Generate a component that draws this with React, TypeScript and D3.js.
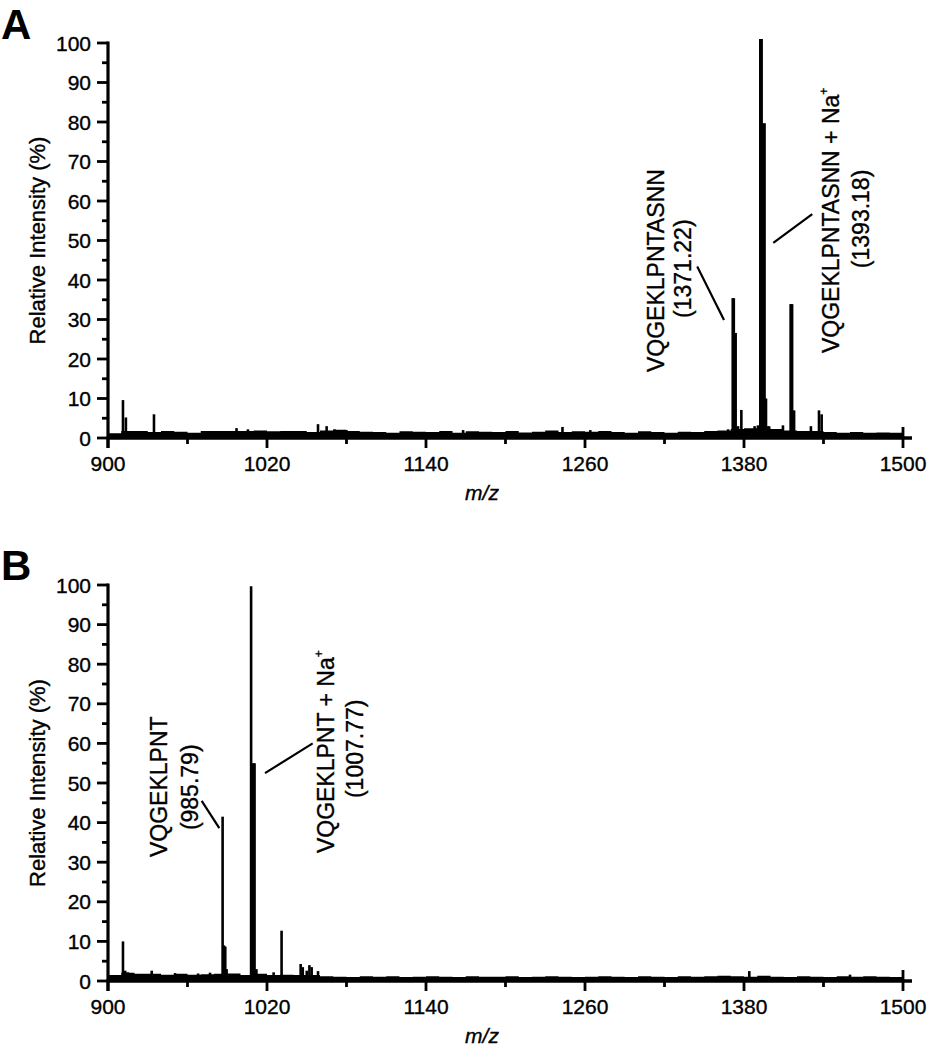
import React from "react";
import * as d3 from "d3";

// ---------- data ----------
const X_MAJOR = [900, 1020, 1140, 1260, 1380, 1500];
const X_MINOR = [960, 1080, 1200, 1320, 1440];
const Y_MAJOR = [0, 10, 20, 30, 40, 50, 60, 70, 80, 90, 100];
const Y_MINOR = [5, 15, 25, 35, 45, 55, 65, 75, 85, 95];

// baseline noise grid (m/z, every 10)
const BASE_MZ = [
  900, 910, 920, 930, 940, 950, 960, 970, 980, 990,
  1000, 1010, 1020, 1030, 1040, 1050, 1060, 1070, 1080, 1090,
  1100, 1110, 1120, 1130, 1140, 1150, 1160, 1170, 1180, 1190,
  1200, 1210, 1220, 1230, 1240, 1250, 1260, 1270, 1280, 1290,
  1300, 1310, 1320, 1330, 1340, 1350, 1360, 1370, 1380, 1390,
  1400, 1410, 1420, 1430, 1440, 1450, 1460, 1470, 1480, 1490, 1500,
];
const A_BASE = [
  1.2, 1.8, 1.8, 1.5, 1.8, 1.6, 1.3, 1.8, 1.8, 1.8,
  1.8, 1.9, 1.7, 1.8, 1.8, 1.5, 1.9, 2.1, 1.8, 1.6,
  1.5, 1.3, 1.7, 1.6, 1.5, 1.8, 1.3, 1.7, 1.6, 1.5,
  1.8, 1.4, 1.6, 1.9, 1.5, 1.7, 1.6, 1.8, 1.5, 1.3,
  1.7, 1.5, 1.3, 1.6, 1.5, 1.8, 1.9, 2.3, 2.5, 2.9,
  2.3, 1.9, 1.8, 1.8, 1.5, 1.3, 1.5, 1.3, 1.4, 1.3, 1.1,
];
const B_BASE = [
  1.5, 2.1, 1.8, 1.8, 1.6, 1.8, 1.6, 1.7, 1.8, 1.9,
  1.5, 1.8, 1.5, 1.6, 1.5, 1.5, 1.2, 1.1, 1.0, 1.2,
  1.1, 1.2, 1.0, 1.1, 1.2, 1.1, 1.0, 1.2, 1.1, 1.1,
  1.2, 1.0, 1.1, 1.2, 1.1, 1.0, 1.1, 1.2, 1.1, 1.0,
  1.2, 1.1, 1.0, 1.2, 1.1, 1.2, 1.3, 1.2, 1.1, 1.3,
  1.1, 1.0, 1.2, 1.1, 1.0, 1.2, 1.1, 1.2, 1.1, 1.0, 1.1,
];

// peaks: [m/z, relative intensity]
const A_PEAKS: [number, number][] = [
  [911.3, 9.6], [913.5, 5.2], [934.7, 6.0],
  [997, 2.5], [1005.6, 2.2], [1058.5, 3.5], [1065, 3.0], [1071, 2.2], [1080, 2.0],
  [1168, 2.0], [1243, 2.8], [1264, 2.0],
  [1368, 2.2], [1371.5, 35.4], [1372.3, 35.4], [1373.7, 26.6], [1375.5, 3.0], [1378, 7.1],
  [1388, 3.0], [1390.5, 3.2], [1392.3, 101], [1393.3, 101], [1394.5, 79.7], [1395.5, 79.7],
  [1396.6, 10], [1398.5, 3.0],
  [1409.4, 3.2], [1415.2, 33.9], [1416.3, 33.9], [1417.8, 7.0],
  [1430.5, 3.0], [1436.6, 7.0], [1438.6, 6.0],
];
const B_PEAKS: [number, number][] = [
  [911.3, 10], [913, 2.6], [915, 2.2], [933, 2.6], [950.6, 2.0], [968, 1.9], [977, 2.1],
  [986.5, 41.5], [987.5, 9.0], [988.5, 8.7], [989.5, 3.0],
  [1008, 99.7], [1009.6, 55], [1010.6, 55], [1012, 3.0],
  [1025, 2.2], [1031, 12.7], [1045.4, 4.3], [1047, 3.5], [1050, 2.6], [1052, 4.0],
  [1053.7, 3.5], [1058.5, 2.5], [1384, 2.5], [1460, 1.6],
];

// annotations (data coordinates): rotated text labels and leader lines
const A_LABELS = [
  { text: "VQGEKLPNTASNN", mz: 1319.3, v: 16.7, na: false },
  { text: "(1371.22)", mz: 1340, v: 30.4, na: false },
  { text: "VQGEKLPNTASNN + Na", mz: 1452, v: 21.5, na: true },
  { text: "(1393.18)", mz: 1474.3, v: 43, na: false },
];
const A_LINES = [
  [1344.7, 43.4, 1364.9, 29.9],
  [1402.1, 49.4, 1431.5, 56.7],
];
const B_LABELS = [
  { text: "VQGEKLPNT", mz: 944.9, v: 31.3, na: false },
  { text: "(985.79)", mz: 967.9, v: 38.1, na: false },
  { text: "VQGEKLPNT + Na", mz: 1070.2, v: 32.3, na: true },
  { text: "(1007.77)", mz: 1092.5, v: 46.2, na: false },
];
const B_LINES = [
  [970.7, 45.5, 984, 38.6],
  [1018.5, 52.5, 1054.5, 60],
];

const FONT = "'Liberation Sans', Arial, Helvetica, sans-serif";
const TXT = { fontFamily: FONT, stroke: "#000", strokeWidth: 0.35 };

type PanelProps = {
  letter: string;
  top: number;
  bottom: number;
  letterY: number;
  base: number[];
  peaks: [number, number][];
  labels: { text: string; mz: number; v: number; na: boolean }[];
  lines: number[][];
};

function Panel({ letter, top, bottom, letterY, base, peaks, labels, lines }: PanelProps) {
  const x = d3.scaleLinear().domain([900, 1500]).range([108, 903]);
  const y = d3.scaleLinear().domain([0, 100]).range([bottom, top]);
  const baseArea = d3
    .area<number>()
    .x((_, i) => x(BASE_MZ[i]))
    .y0(y(0))
    .y1((d) => y(d))
    .curve(d3.curveStepAfter);

  return (
    <g>
      <text x={1} y={letterY} fontFamily={FONT} fontWeight="bold" fontSize={42}>
        {letter}
      </text>
      {/* y axis title */}
      <text
        transform={`translate(45,${(top + bottom) / 2}) rotate(-90)`}
        textAnchor="middle"
        fontSize={22}
        {...TXT}
      >
        Relative Intensity (%)
      </text>
      {/* noise baseline */}
      <path d={baseArea(base) || ""} fill="#000" />
      {/* peaks */}
      {peaks.map(([mz, v], i) => (
        <line key={i} x1={x(mz)} x2={x(mz)} y1={y(0)} y2={y(v)} stroke="#000" strokeWidth={2.6} />
      ))}
      {/* axes */}
      <line x1={x(900)} x2={x(900)} y1={y(100) - 1.5} y2={y(0) + 10} stroke="#000" strokeWidth={3.2} />
      <line x1={x(900) - 1.5} x2={x(1500) + 9} y1={y(0)} y2={y(0)} stroke="#000" strokeWidth={3.5} />
      {Y_MAJOR.map((t) => (
        <g key={"ym" + t}>
          <line x1={x(900) - 11} x2={x(900)} y1={y(t)} y2={y(t)} stroke="#000" strokeWidth={2.8} />
          <text x={91} y={y(t) + 7.5} textAnchor="end" fontSize={21} {...TXT}>
            {t}
          </text>
        </g>
      ))}
      {Y_MINOR.map((t) => (
        <line key={"yn" + t} x1={x(900) - 6} x2={x(900)} y1={y(t)} y2={y(t)} stroke="#000" strokeWidth={2.8} />
      ))}
      {X_MAJOR.map((t) => (
        <g key={"xm" + t}>
          <line
            x1={x(t)}
            x2={x(t)}
            y1={t === 1500 ? y(0) - 11 : y(0)}
            y2={y(0) + 10}
            stroke="#000"
            strokeWidth={2.8}
          />
          <text x={x(t)} y={y(0) + 33} textAnchor="middle" fontSize={21} {...TXT}>
            {t}
          </text>
        </g>
      ))}
      {X_MINOR.map((t) => (
        <line key={"xn" + t} x1={x(t)} x2={x(t)} y1={y(0)} y2={y(0) + 6} stroke="#000" strokeWidth={2.8} />
      ))}
      <text x={482} y={y(0) + 62} textAnchor="middle" fontSize={21} fontStyle="italic" {...TXT}>
        m/z
      </text>
      {/* annotations */}
      {labels.map((l, i) => (
        <text
          key={"l" + i}
          transform={`translate(${x(l.mz)},${y(l.v)}) rotate(-90)`}
          fontSize={23}
          {...TXT}
        >
          {l.text}
          {l.na ? (
            <tspan fontSize={12} dy={-11}>
              +
            </tspan>
          ) : null}
        </text>
      ))}
      {lines.map((ln, i) => (
        <line
          key={"ln" + i}
          x1={x(ln[0])}
          y1={y(ln[1])}
          x2={x(ln[2])}
          y2={y(ln[3])}
          stroke="#000"
          strokeWidth={2.2}
        />
      ))}
    </g>
  );
}

export default function App() {
  return (
    <svg
      width={929}
      height={1050}
      style={{ position: "absolute", left: 0, top: 0, background: "#fff" }}
    >
      <rect width={929} height={1050} fill="#fff" />
      <Panel
        letter="A"
        top={43}
        bottom={438}
        letterY={39}
        base={A_BASE}
        peaks={A_PEAKS}
        labels={A_LABELS}
        lines={A_LINES}
      />
      <Panel
        letter="B"
        top={585}
        bottom={981}
        letterY={580}
        base={B_BASE}
        peaks={B_PEAKS}
        labels={B_LABELS}
        lines={B_LINES}
      />
    </svg>
  );
}
